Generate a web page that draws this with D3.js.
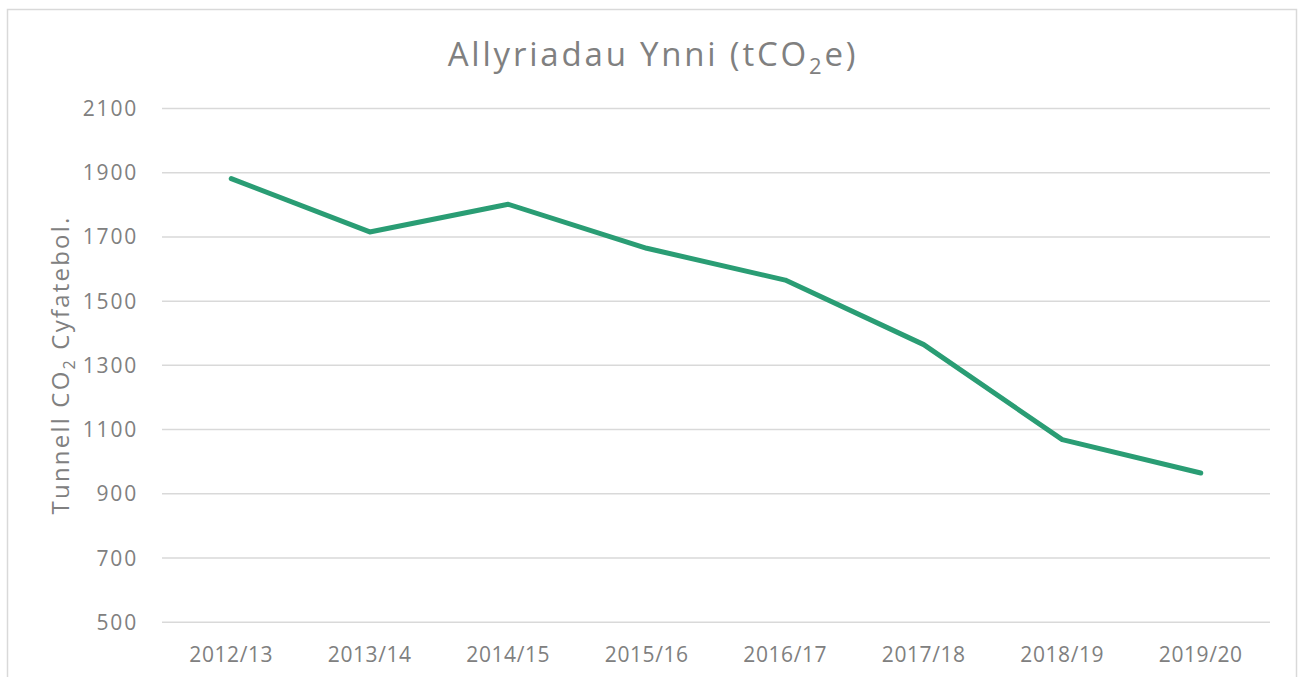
<!DOCTYPE html>
<html>
<head>
<meta charset="utf-8">
<script src="https://cdn.jsdelivr.net/npm/d3@7"></script>
<style>
  body { margin: 0; background: #fff; }
  svg text { font-family: "Open Sans", "DejaVu Sans", sans-serif; fill: #808080; }
</style>
</head>
<body>
<div id="chart"></div>
<script>
// chart values
const years = ["2012/13", "2013/14", "2014/15", "2015/16", "2016/17", "2017/18", "2018/19", "2019/20"];
const emissions = [1880, 1714, 1800, 1663, 1564, 1363, 1067, 963];
const yTicks = [500, 700, 900, 1100, 1300, 1500, 1700, 1900, 2100];

const width = 1299, height = 677;
const margin = { left: 162, right: 29, top: 108, bottom: 55 };

const svg = d3.select("#chart").append("svg")
  .attr("width", width)
  .attr("height", height);

// outer frame of the chart area
svg.append("rect")
  .attr("x", 7.5).attr("y", 9.5)
  .attr("width", 1289).attr("height", 700)
  .attr("fill", "none")
  .attr("stroke", "#d9d9d9")
  .attr("stroke-width", 1.5);

const x = d3.scaleBand()
  .domain(years)
  .range([margin.left, width - margin.right]);

const y = d3.scaleLinear()
  .domain([500, 2100])
  .range([height - margin.bottom - 0.3, margin.top]);

// gridlines
const grid = svg.append("g")
  .call(d3.axisLeft(y).tickValues(yTicks).tickSize(-(width - margin.left - margin.right)).tickFormat(""))
  .attr("transform", "translate(" + margin.left + ",0)");
grid.select(".domain").remove();
grid.selectAll("line").attr("stroke", "#d9d9d9").attr("stroke-width", 1.5);

// y tick labels
const yAxis = svg.append("g")
  .attr("transform", "translate(" + (margin.left - 24) + ",0)")
  .call(d3.axisLeft(y).tickValues(yTicks).tickFormat(d3.format("d")).tickSize(0).tickPadding(0));
yAxis.select(".domain").remove();
yAxis.selectAll("text")
  .style("font-size", "21px")
  .style("letter-spacing", "1.8px")
  .attr("dy", "0.36em");

// x tick labels
const xAxis = svg.append("g")
  .attr("transform", "translate(0," + (height - margin.bottom) + ")")
  .call(d3.axisBottom(x).tickSize(0).tickPadding(0));
xAxis.select(".domain").remove();
xAxis.selectAll("text")
  .style("font-size", "21px")
  .style("letter-spacing", "0.6px")
  .attr("y", 0)
  .attr("dy", 40);

// the line
const line = d3.line()
  .x((d, i) => x(years[i]) + x.bandwidth() / 2)
  .y(d => y(d));

svg.append("path")
  .datum(emissions)
  .attr("d", line)
  .attr("fill", "none")
  .attr("stroke", "#2a9d74")
  .attr("stroke-width", 5)
  .attr("stroke-linejoin", "round")
  .attr("stroke-linecap", "round");

// title
const title = svg.append("text")
  .attr("x", 653).attr("y", 66)
  .attr("text-anchor", "middle")
  .style("font-size", "33px")
  .style("letter-spacing", "2.8px");
title.append("tspan").text("Allyriadau Ynni (tCO");
title.append("tspan").text("2").style("font-size", "22px").attr("dy", 8);
title.append("tspan").text("e)").attr("dy", -8);

// y axis title
const yTitle = svg.append("text")
  .attr("transform", "translate(69," + ((margin.top + height - margin.bottom) / 2) + ") rotate(-90)")
  .attr("text-anchor", "middle")
  .style("font-size", "24px")
  .style("letter-spacing", "2.2px");
yTitle.append("tspan").text("Tunnell CO");
yTitle.append("tspan").text("2").style("font-size", "16px").attr("dy", 6);
yTitle.append("tspan").text(" Cyfatebol.").attr("dy", -6);
</script>
</body>
</html>
